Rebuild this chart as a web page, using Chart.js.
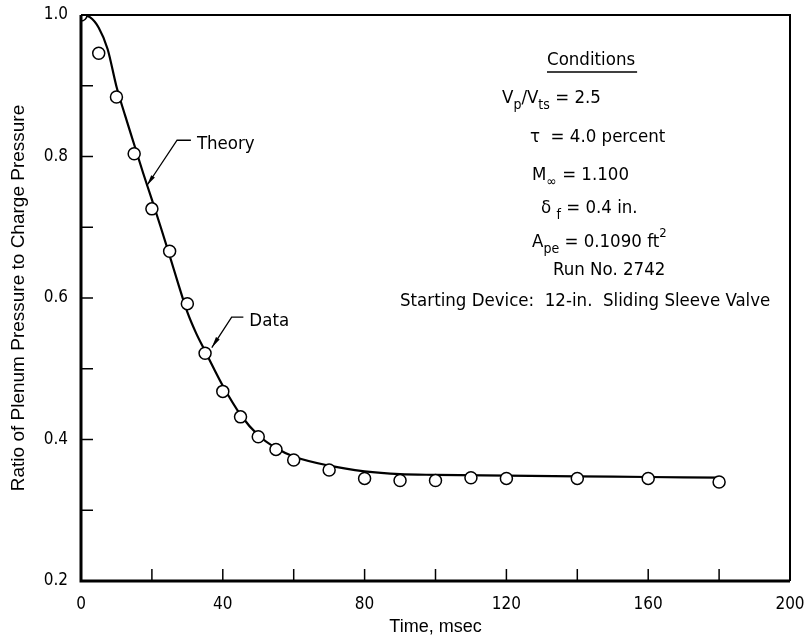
<!DOCTYPE html>
<html>
<head>
<meta charset="utf-8">
<script src="https://cdn.jsdelivr.net/npm/chart.js@4"></script>
<style>
  body { margin: 0; background: #fff; }
  #wrap { width: 808px; height: 641px; }
</style>
</head>
<body>
<div id="wrap"><canvas id="pressure" width="808" height="641"></canvas></div>
<script>
// measured run data (circles)
const dataTime = [0, 5, 10, 15, 20, 25, 30, 35, 40, 45, 50, 55, 60, 70, 80, 90, 100, 110, 120, 140, 160, 180];
const dataRatio = [1.0, 0.946, 0.884, 0.804, 0.726, 0.666, 0.592, 0.522, 0.468, 0.432, 0.404, 0.386, 0.371, 0.357, 0.345, 0.342, 0.342, 0.346, 0.345, 0.345, 0.345, 0.340];

// theory curve
const theoryTime = [0, 2.5, 5, 7.5, 10, 12.5, 15, 17.5, 20, 22.5, 25, 27.5, 30, 32.5, 35, 37.5, 40, 45, 50, 55, 60, 70, 80, 90, 100, 120, 140, 160, 180];
const theoryRatio = [1.0, 0.997, 0.982, 0.952, 0.899, 0.857, 0.817, 0.777, 0.739, 0.700, 0.660, 0.619, 0.580, 0.550, 0.525, 0.500, 0.476, 0.435, 0.406, 0.388, 0.376, 0.363, 0.355, 0.351, 0.350, 0.349, 0.348, 0.347, 0.346];

// labelled ticks
const xLabelTicks = [0, 40, 80, 120, 160, 200];
const yLabelTicks = [0.2, 0.4, 0.6, 0.8, 1.0];

const narrow = "'Liberation Sans Narrow', 'DejaVu Sans Condensed', sans-serif";
const plain = "'Liberation Sans', Arial, sans-serif";

// conditions block, each line is a list of [text, kind]
const conditionLines = [
    { x: 547, y: 60, parts: [['Conditions', 'n']], underline: true },
    { x: 502, y: 98, parts: [['V', 'n'], ['p', 'sub'], ['/V', 'n'], ['ts', 'sub'], [' = 2.5', 'n']] },
    { x: 530, y: 137, parts: [['\u03C4  = 4.0 percent', 'n']] },
    { x: 532, y: 175, parts: [['M', 'n'], ['\u221E', 'sub'], [' = 1.100', 'n']] },
    { x: 541, y: 208, parts: [['\u03B4 ', 'n'], ['f', 'sub'], [' = 0.4 in.', 'n']] },
    { x: 532, y: 242, parts: [['A', 'n'], ['pe', 'sub'], [' = 0.1090 ft', 'n'], ['2', 'sup']] },
    { x: 553, y: 270, parts: [['Run No. 2742', 'n']] },
    { x: 400, y: 301, parts: [['Starting Device:  12-in.  Sliding Sleeve Valve', 'n']] }
];

// leader lines: text, elbow, arrow tip (in data units)
const leaders = [
    { text: 'Theory', tip: [18.6, 0.759], elbow: [27.1, 0.823], end: [31.0, 0.823] },
    { text: 'Data', tip: [36.9, 0.530], elbow: [42.5, 0.573], end: [45.8, 0.573] }
];

function setFont(ctx, kind) {
    if (kind === 'sub') ctx.font = '14px ' + narrow;
    else if (kind === 'sup') ctx.font = '13px ' + narrow;
    else ctx.font = '18.5px ' + narrow;
}

const framePlugin = {
    id: 'frame',
    afterDatasetsDraw(chart) {
        const ctx = chart.ctx;
        const xs = chart.scales.x;
        const ys = chart.scales.y;
        ctx.save();
        ctx.strokeStyle = '#000';
        ctx.fillStyle = '#000';

        // leader lines with arrowheads
        leaders.forEach(l => {
            const tx = xs.getPixelForValue(l.tip[0]), ty = ys.getPixelForValue(l.tip[1]);
            const ex = xs.getPixelForValue(l.elbow[0]), ey = ys.getPixelForValue(l.elbow[1]);
            const hx = xs.getPixelForValue(l.end[0]);
            ctx.lineWidth = 1.3;
            ctx.beginPath();
            ctx.moveTo(hx, ey);
            ctx.lineTo(ex, ey);
            ctx.lineTo(tx, ty);
            ctx.stroke();
            const ang = Math.atan2(ty - ey, tx - ex);
            ctx.beginPath();
            ctx.moveTo(tx, ty);
            ctx.lineTo(tx - 11 * Math.cos(ang) + 2.2 * Math.sin(ang), ty - 11 * Math.sin(ang) - 2.2 * Math.cos(ang));
            ctx.lineTo(tx - 11 * Math.cos(ang) - 2.2 * Math.sin(ang), ty - 11 * Math.sin(ang) + 2.2 * Math.cos(ang));
            ctx.closePath();
            ctx.fill();
            ctx.font = '18.5px ' + narrow;
            ctx.textBaseline = 'middle';
            ctx.textAlign = 'left';
            ctx.fillText(l.text, hx + 6, ey + 4);
        });

        // conditions text
        ctx.textBaseline = 'middle';
        ctx.textAlign = 'left';
        conditionLines.forEach(line => {
            let x = line.x;
            line.parts.forEach(([txt, kind]) => {
                setFont(ctx, kind);
                const dy = kind === 'sub' ? 7 : kind === 'sup' ? -8 : 0;
                ctx.fillText(txt, x, line.y + dy);
                x += ctx.measureText(txt).width;
            });
            if (line.underline) {
                ctx.lineWidth = 1.3;
                ctx.beginPath();
                ctx.moveTo(line.x, line.y + 12);
                ctx.lineTo(x + 2, line.y + 12);
                ctx.stroke();
            }
        });
        ctx.restore();
    },
    afterDraw(chart) {
        const ctx = chart.ctx;
        const a = chart.chartArea;
        const xs = chart.scales.x;
        const ys = chart.scales.y;
        ctx.save();
        ctx.strokeStyle = '#000';

        // inward ticks
        ctx.lineWidth = 1.5;
        xs.ticks.forEach(t => {
            if (t.value <= xs.min || t.value >= xs.max) return;
            const px = xs.getPixelForValue(t.value);
            ctx.beginPath();
            ctx.moveTo(px, a.bottom);
            ctx.lineTo(px, a.bottom - 12);
            ctx.stroke();
        });
        ys.ticks.forEach(t => {
            if (t.value <= ys.min + 1e-6 || t.value >= ys.max - 1e-6) return;
            const py = ys.getPixelForValue(t.value);
            ctx.beginPath();
            ctx.moveTo(a.left, py);
            ctx.lineTo(a.left + 12, py);
            ctx.stroke();
        });

        // frame: heavy left/bottom, lighter top/right
        ctx.lineWidth = 2;
        ctx.beginPath();
        ctx.moveTo(a.left, a.top);
        ctx.lineTo(a.right, a.top);
        ctx.lineTo(a.right, a.bottom);
        ctx.stroke();
        ctx.lineWidth = 3;
        ctx.beginPath();
        ctx.moveTo(a.left, a.top);
        ctx.lineTo(a.left, a.bottom);
        ctx.lineTo(a.right, a.bottom);
        ctx.stroke();
        ctx.restore();
    }
};

const ctx = document.getElementById('pressure').getContext('2d');
const pressureChart = new Chart(ctx, {
    type: 'scatter',
    data: {
        datasets: [{
            label: 'Data',
            data: dataTime.map((t, i) => ({ x: t, y: dataRatio[i] })),
            showLine: false,
            pointRadius: 6,
            pointBackgroundColor: '#fff',
            pointBorderColor: '#000',
            pointBorderWidth: 1.5
        }, {
            label: 'Theory',
            data: theoryTime.map((t, i) => ({ x: t, y: theoryRatio[i] })),
            showLine: true,
            borderColor: '#000',
            borderWidth: 2.2,
            pointRadius: 0,
            cubicInterpolationMode: 'monotone'
        }]
    },
    options: {
        responsive: false,
        animation: false,
        devicePixelRatio: 1,
        layout: { padding: { top: 15, right: 18, bottom: 0, left: 0 } },
        plugins: {
            legend: { display: false },
            tooltip: { enabled: false }
        },
        scales: {
            x: {
                type: 'linear',
                min: 0,
                max: 200,
                grid: { display: false, drawTicks: false },
                border: { display: false },
                ticks: {
                    stepSize: 20,
                    padding: 13,
                    color: '#000',
                    maxRotation: 0,
                    autoSkip: false,
                    font: { family: narrow, size: 17 },
                    callback: v => xLabelTicks.includes(v) ? String(v) : ''
                },
                title: {
                    display: true,
                    text: 'Time, msec',
                    color: '#000',
                    font: { family: plain, size: 18 },
                    padding: { top: 0, bottom: 3 }
                },
                afterFit: s => {
                    s.height = 60;
                    s.paddingLeft = 0;
                    s.paddingRight = 0;
                }
            },
            y: {
                type: 'linear',
                min: 0.2,
                max: 1.0,
                grid: { display: false, drawTicks: false },
                border: { display: false },
                ticks: {
                    stepSize: 0.1,
                    padding: 13,
                    color: '#000',
                    autoSkip: false,
                    font: { family: narrow, size: 17 },
                    callback: v => yLabelTicks.some(t => Math.abs(t - v) < 1e-6) ? v.toFixed(1) : ''
                },
                title: {
                    display: true,
                    text: 'Ratio of Plenum Pressure to Charge Pressure',
                    color: '#000',
                    font: { family: plain, size: 19 },
                    padding: { top: 7, bottom: 0 }
                },
                afterFit: s => {
                    s.width = 81;
                    s.paddingTop = 0;
                    s.paddingBottom = 0;
                }
            }
        }
    },
    plugins: [framePlugin]
});
</script>
</body>
</html>
